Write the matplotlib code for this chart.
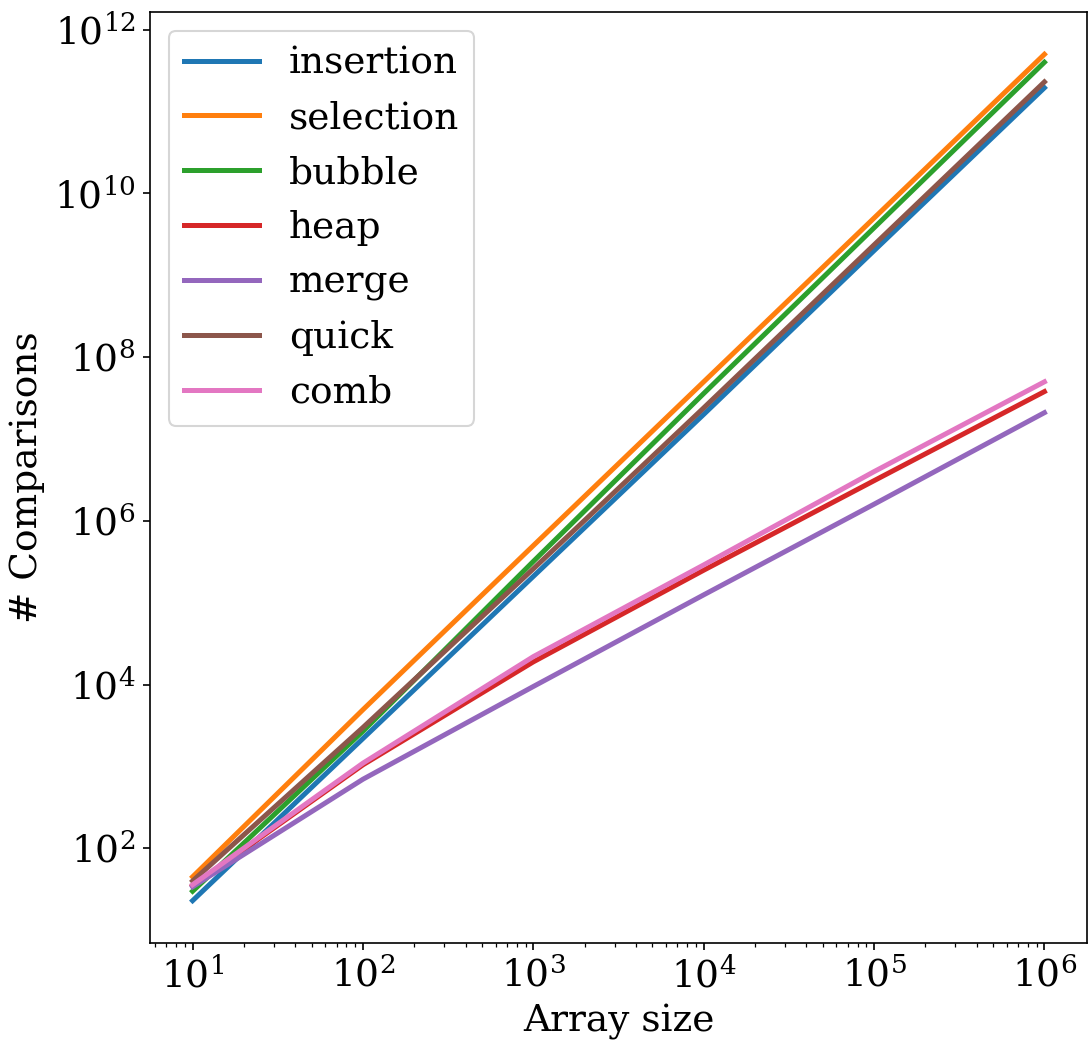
import matplotlib
matplotlib.use("Agg")
import matplotlib.pyplot as plt

plt.rcParams['font.family'] = ['DejaVu Serif']
plt.rcParams['mathtext.fontset'] = 'dejavuserif'
plt.rcParams['font.size'] = 18

sizes = [10, 100, 1000, 10000, 100000, 1000000]
insertion = [23, 2.2e3, 2.1e5, 2.0e7, 2.0e9, 1.95e11]
selection = [45, 4950, 4.995e5, 5.0e7, 5.0e9, 5.0e11]
bubble = [30, 2.7e3, 3.2e5, 3.6e7, 3.8e9, 4.0e11]
heap = [35, 1.05e3, 1.9e4, 2.5e5, 3.1e6, 3.8e7]
merge = [34, 700, 9.5e3, 1.25e5, 1.6e6, 2.1e7]
quick = [40, 3.0e3, 2.6e5, 2.4e7, 2.35e9, 2.3e11]
comb = [36, 1.1e3, 2.2e4, 2.9e5, 4.0e6, 5.0e7]

series = [("insertion", insertion), ("selection", selection), ("bubble", bubble),
          ("heap", heap), ("merge", merge), ("quick", quick), ("comb", comb)]

W, H = 1088, 1041
DPI = 150
fig = plt.figure(figsize=(W / DPI, H / DPI), dpi=DPI)
ax = fig.add_axes([150 / W, 1 - 943 / H, 937 / W, 931 / H])

for name, vals in series:
    ax.plot(sizes, vals, lw=2.4, label=name)

ax.set_xscale('log')
ax.set_yscale('log')
ax.set_xlabel('Array size')
ax.set_ylabel('# Comparisons')
ax.legend(loc='upper left')

fig.savefig('out.png', dpi=DPI)
